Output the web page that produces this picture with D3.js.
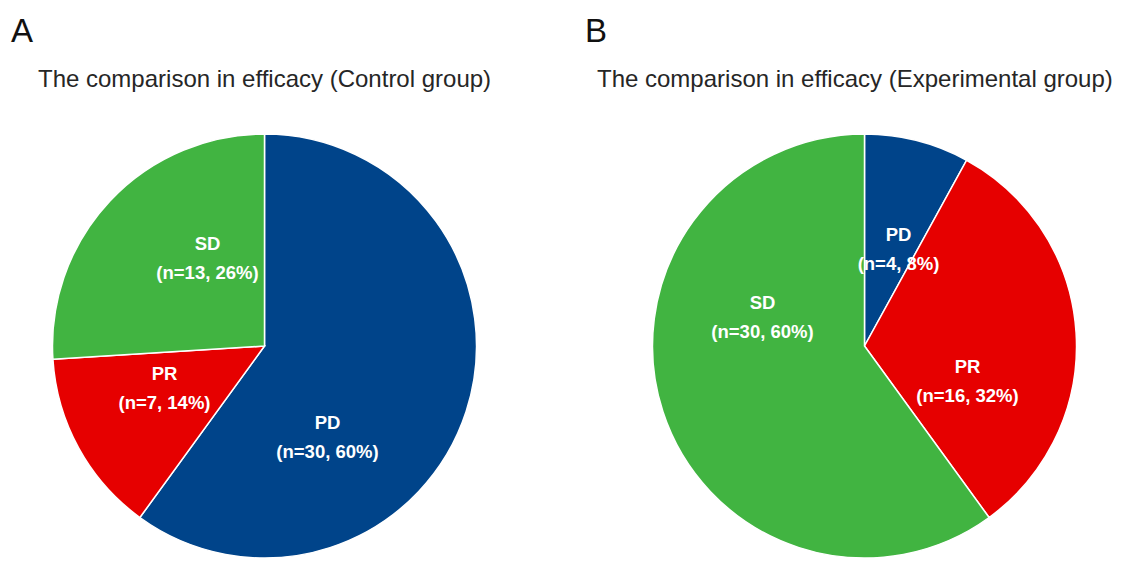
<!DOCTYPE html>
<html>
<head>
<meta charset="utf-8">
<script src="https://cdn.jsdelivr.net/npm/d3@7"></script>
<style>
  html, body { margin: 0; padding: 0; background: #fff; }
  svg { display: block; font-family: "Liberation Sans", Arial, sans-serif; }
</style>
</head>
<body>
<script>
// data
const categories = ["PD", "PR", "SD"];
const controlCounts = [30, 7, 13];
const experimentalCounts = [4, 16, 30];
const panelLetters = ["A", "B"];
const panelTitles = [
    "The comparison in efficacy (Control group)",
    "The comparison in efficacy (Experimental group)"
];

const colors = { PD: "#00448A", PR: "#E60000", SD: "#41B441" };

const width = 1124, height = 561;
const radius = 212;

// panel layout: pie centre + label offsets (dx, dy from centre) per category
const panels = [
    { counts: controlCounts, cx: 264.5, cy: 346, letterX: 11, titleX: 38,
      labelOffsets: { PD: [63, 91], PR: [-100, 42], SD: [-57, -88] } },
    { counts: experimentalCounts, cx: 864.5, cy: 346, letterX: 585, titleX: 597,
      labelOffsets: { PD: [34, -97], PR: [103, 35], SD: [-102, -29] } }
];

const svg = d3.select("body").append("svg")
    .attr("width", width)
    .attr("height", height);

const pie = d3.pie().sort(null).value(d => d.n);
const arc = d3.arc().innerRadius(0).outerRadius(radius);

panels.forEach((p, i) => {
    const data = categories.map((c, j) => ({ cat: c, n: p.counts[j] }));
    const total = d3.sum(data, d => d.n);

    svg.append("text")
        .attr("x", p.letterX)
        .attr("y", 42)
        .attr("font-size", 33)
        .attr("fill", "#111")
        .text(panelLetters[i]);

    svg.append("text")
        .attr("x", p.titleX)
        .attr("y", 87)
        .attr("font-size", 24)
        .attr("fill", "#262626")
        .text(panelTitles[i]);

    const g = svg.append("g")
        .attr("transform", `translate(${p.cx},${p.cy})`);

    g.selectAll("path")
        .data(pie(data))
        .join("path")
        .attr("d", arc)
        .attr("fill", d => colors[d.data.cat])
        .attr("stroke", "#fff")
        .attr("stroke-width", 1.5);

    const labels = g.selectAll("text.lbl")
        .data(pie(data))
        .join("text")
        .attr("class", "lbl")
        .attr("text-anchor", "middle")
        .attr("fill", "#fff")
        .attr("font-weight", "bold")
        .attr("font-size", 18.5)
        .attr("transform", d => {
            const o = p.labelOffsets[d.data.cat];
            return `translate(${o[0]},${o[1]})`;
        });

    labels.append("tspan")
        .attr("x", 0)
        .attr("y", -8)
        .text(d => d.data.cat);

    labels.append("tspan")
        .attr("x", 0)
        .attr("y", 21)
        .text(d => `(n=${d.data.n}, ${Math.round(d.data.n / total * 100)}%)`);
});
</script>
</body>
</html>
